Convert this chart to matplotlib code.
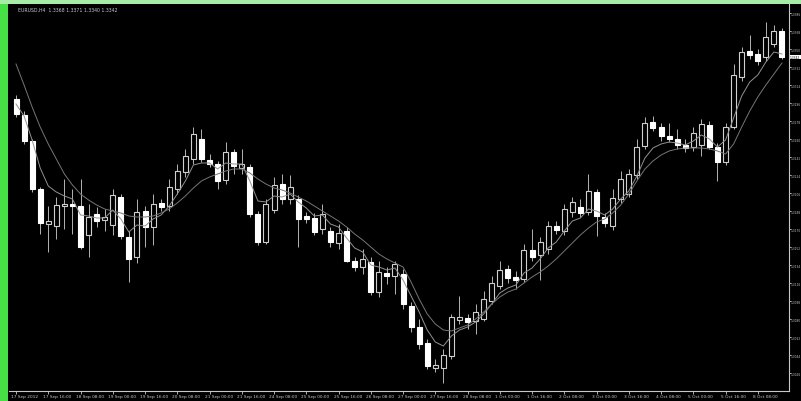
import matplotlib
matplotlib.use("Agg")
import matplotlib.pyplot as plt
from matplotlib.patches import Rectangle

SYMBOL = "EURUSD,H4"

# H4 bars (price = 1.xxxx)
opens = [1.3300, 1.3284, 1.3258, 1.3210, 1.3175, 1.3173, 1.3193, 1.3195, 1.3193, 1.3164,
         1.3185, 1.3179, 1.3174, 1.3202, 1.3162, 1.3142, 1.3188, 1.3172, 1.3196, 1.3193,
         1.3210, 1.3227, 1.3240, 1.3260, 1.3239, 1.3235, 1.3219, 1.3247, 1.3231, 1.3232,
         1.3185, 1.3157, 1.3189, 1.3215, 1.3200, 1.3200, 1.3183, 1.3181, 1.3170, 1.3168,
         1.3156, 1.3168, 1.3138, 1.3132, 1.3137, 1.3107, 1.3126, 1.3123, 1.3125, 1.3093,
         1.3072, 1.3056, 1.3031, 1.3031, 1.3043, 1.3079, 1.3081, 1.3078, 1.3080, 1.3098,
         1.3113, 1.3130, 1.3122, 1.3120, 1.3149, 1.3144, 1.3150, 1.3173, 1.3168, 1.3187,
         1.3192, 1.3187, 1.3207, 1.3182, 1.3173, 1.3200, 1.3205, 1.3224, 1.3253, 1.3277,
         1.3272, 1.3263, 1.3260, 1.3254, 1.3252, 1.3254, 1.3274, 1.3252, 1.3237, 1.3272,
         1.3322, 1.3348, 1.3345, 1.3342, 1.3355, 1.3368]
highs = [1.3304, 1.3288, 1.3260, 1.3212, 1.3193, 1.3202, 1.3220, 1.3210, 1.3220, 1.3195,
         1.3192, 1.3190, 1.3210, 1.3205, 1.3168, 1.3200, 1.3193, 1.3205, 1.3200, 1.3220,
         1.3235, 1.3250, 1.3272, 1.3270, 1.3245, 1.3238, 1.3257, 1.3250, 1.3250, 1.3235,
         1.3188, 1.3200, 1.3222, 1.3225, 1.3224, 1.3204, 1.3187, 1.3186, 1.3195, 1.3172,
         1.3175, 1.3172, 1.3142, 1.3150, 1.3142, 1.3138, 1.3132, 1.3138, 1.3130, 1.3097,
         1.3080, 1.3060, 1.3040, 1.3050, 1.3085, 1.3103, 1.3085, 1.3095, 1.3108, 1.3123,
         1.3138, 1.3134, 1.3128, 1.3155, 1.3170, 1.3162, 1.3178, 1.3178, 1.3195, 1.3202,
         1.3200, 1.3225, 1.3210, 1.3186, 1.3210, 1.3228, 1.3230, 1.3260, 1.3282, 1.3283,
         1.3276, 1.3276, 1.3270, 1.3260, 1.3272, 1.3280, 1.3278, 1.3256, 1.3276, 1.3335,
         1.3352, 1.3364, 1.3350, 1.3377, 1.3374, 1.3371]
lows = [1.3282, 1.3255, 1.3207, 1.3165, 1.3147, 1.3160, 1.3170, 1.3165, 1.3150, 1.3142,
        1.3172, 1.3168, 1.3164, 1.3160, 1.3117, 1.3136, 1.3152, 1.3154, 1.3188, 1.3188,
        1.3205, 1.3222, 1.3235, 1.3237, 1.3232, 1.3210, 1.3215, 1.3225, 1.3225, 1.3182,
        1.3154, 1.3155, 1.3186, 1.3195, 1.3195, 1.3152, 1.3176, 1.3164, 1.3165, 1.3152,
        1.3150, 1.3137, 1.3128, 1.3125, 1.3104, 1.3102, 1.3115, 1.3105, 1.3090, 1.3067,
        1.3050, 1.3030, 1.3027, 1.3016, 1.3040, 1.3075, 1.3070, 1.3065, 1.3078, 1.3095,
        1.3110, 1.3116, 1.3110, 1.3117, 1.3138, 1.3119, 1.3145, 1.3165, 1.3164, 1.3182,
        1.3182, 1.3184, 1.3163, 1.3172, 1.3169, 1.3196, 1.3202, 1.3220, 1.3250, 1.3268,
        1.3258, 1.3257, 1.3250, 1.3247, 1.3248, 1.3243, 1.3250, 1.3218, 1.3234, 1.3270,
        1.3318, 1.3340, 1.3334, 1.3338, 1.3352, 1.3340]
closes = [1.3285, 1.3258, 1.3210, 1.3176, 1.3178, 1.3194, 1.3195, 1.3193, 1.3152, 1.3182,
          1.3178, 1.3182, 1.3204, 1.3163, 1.3140, 1.3187, 1.3172, 1.3195, 1.3192, 1.3212,
          1.3228, 1.3243, 1.3265, 1.3240, 1.3235, 1.3218, 1.3247, 1.3233, 1.3235, 1.3185,
          1.3157, 1.3195, 1.3214, 1.3200, 1.3212, 1.3180, 1.3180, 1.3167, 1.3185, 1.3157,
          1.3166, 1.3138, 1.3132, 1.3140, 1.3107, 1.3127, 1.3123, 1.3135, 1.3095, 1.3072,
          1.3055, 1.3033, 1.3034, 1.3044, 1.3082, 1.3082, 1.3077, 1.3087, 1.3100, 1.3116,
          1.3129, 1.3121, 1.3119, 1.3149, 1.3142, 1.3157, 1.3173, 1.3169, 1.3190, 1.3197,
          1.3186, 1.3208, 1.3183, 1.3176, 1.3201, 1.3220, 1.3225, 1.3252, 1.3276, 1.3271,
          1.3263, 1.3260, 1.3254, 1.3251, 1.3266, 1.3275, 1.3252, 1.3237, 1.3272, 1.3324,
          1.3347, 1.3344, 1.3338, 1.3362, 1.3368, 1.3342]

# the two moving average lines
ma_fast = [1.3295, 1.3283, 1.3259, 1.3231, 1.3213, 1.3207, 1.3203, 1.3200, 1.3184, 1.3183,
           1.3181, 1.3181, 1.3189, 1.3180, 1.3167, 1.3174, 1.3173, 1.3180, 1.3184, 1.3193,
           1.3205, 1.3218, 1.3234, 1.3236, 1.3236, 1.3230, 1.3236, 1.3235, 1.3235, 1.3218,
           1.3198, 1.3197, 1.3203, 1.3202, 1.3205, 1.3197, 1.3191, 1.3183, 1.3184, 1.3175,
           1.3172, 1.3161, 1.3151, 1.3147, 1.3134, 1.3132, 1.3129, 1.3131, 1.3119, 1.3103,
           1.3087, 1.3069, 1.3057, 1.3053, 1.3063, 1.3069, 1.3072, 1.3077, 1.3085, 1.3095,
           1.3106, 1.3111, 1.3114, 1.3126, 1.3131, 1.3140, 1.3151, 1.3157, 1.3168, 1.3178,
           1.3181, 1.3190, 1.3188, 1.3184, 1.3190, 1.3200, 1.3208, 1.3223, 1.3241, 1.3251,
           1.3255, 1.3257, 1.3256, 1.3254, 1.3258, 1.3264, 1.3260, 1.3252, 1.3259, 1.3281,
           1.3303, 1.3317, 1.3324, 1.3337, 1.3347, 1.3345]
ma_slow = [1.3335, 1.3314, 1.3292, 1.3272, 1.3255, 1.3240, 1.3225, 1.3214, 1.3205, 1.3199,
           1.3194, 1.3190, 1.3188, 1.3186, 1.3183, 1.3182, 1.3182, 1.3183, 1.3186, 1.3190,
           1.3196, 1.3203, 1.3211, 1.3218, 1.3222, 1.3225, 1.3228, 1.3230, 1.3230, 1.3226,
           1.3220, 1.3215, 1.3211, 1.3209, 1.3206, 1.3202, 1.3198, 1.3193, 1.3188, 1.3183,
           1.3178, 1.3172, 1.3165, 1.3159, 1.3152, 1.3145, 1.3140, 1.3136, 1.3132, 1.3117,
           1.3100, 1.3085, 1.3075, 1.3069, 1.3068, 1.3071, 1.3074, 1.3080, 1.3087, 1.3095,
           1.3102, 1.3107, 1.3110, 1.3116, 1.3122, 1.3127, 1.3133, 1.3140, 1.3148, 1.3156,
           1.3164, 1.3171, 1.3177, 1.3180, 1.3186, 1.3194, 1.3205, 1.3218, 1.3230, 1.3238,
           1.3244, 1.3248, 1.3250, 1.3251, 1.3251, 1.3251, 1.3250, 1.3248, 1.3245, 1.3255,
           1.3272, 1.3288, 1.3302, 1.3314, 1.3325, 1.3336]

# time axis labels, one every 4 bars
date_labels = ["17 Sep 2012", "17 Sep 16:00", "18 Sep 08:00", "19 Sep 00:00",
               "19 Sep 16:00", "20 Sep 08:00", "21 Sep 00:00", "21 Sep 16:00",
               "24 Sep 08:00", "25 Sep 00:00", "25 Sep 16:00", "26 Sep 08:00",
               "27 Sep 00:00", "27 Sep 16:00", "28 Sep 08:00", "1 Oct 00:00",
               "1 Oct 16:00", "2 Oct 08:00", "3 Oct 00:00", "3 Oct 16:00",
               "4 Oct 08:00", "5 Oct 00:00", "5 Oct 16:00", "8 Oct 08:00"]
price_ticks = [1.3026, 1.3044, 1.3062, 1.3080, 1.3098, 1.3116, 1.3134,
               1.3152, 1.3170, 1.3188, 1.3206, 1.3224, 1.3242, 1.3260, 1.3278,
               1.3296, 1.3314, 1.3332, 1.3350, 1.3368, 1.3386]

W, H = 801, 402
GRID = "#c8c8c8"
NARROW = ["Liberation Sans Narrow", "DejaVu Sans"]


def main():
    fig = plt.figure(figsize=(W / 100, H / 100), dpi=100, facecolor="black")

    # green window frame on left and top
    fig.patches.append(Rectangle((0, 0), 8 / W, 1, transform=fig.transFigure,
                                 facecolor="#46e046", edgecolor="none", zorder=0))
    fig.patches.append(Rectangle((0, 1 - 5 / H), 1, 5 / H, transform=fig.transFigure,
                                 facecolor="#a6eca6", edgecolor="none", zorder=0))

    ax = fig.add_axes([9 / W, 10 / H, 780 / W, 387 / H], facecolor="black")

    n = len(closes)
    xs = list(range(n))
    step = 8.06  # pixels per bar
    ax.set_xlim(-7 / step, n - 1 + 7 / step)
    ax.set_ylim(1.3400 - 392 / 10000, 1.3400 - 5 / 10000)

    # wicks
    ax.vlines(xs, lows, highs, color="#b4b4b4", linewidth=0.7, zorder=2)

    # bodies: bear = solid white, bull = hollow
    for i in xs:
        o, c = opens[i], closes[i]
        bear = c < o
        ax.bar(i, abs(c - o), bottom=min(o, c), width=0.62,
               facecolor="white" if bear else "black",
               edgecolor="white" if bear else "#d0d0d0",
               linewidth=0.8, zorder=3)

    ax.plot(xs, ma_fast, color="#929292", linewidth=0.7, zorder=4)
    ax.plot(xs, ma_slow, color="#767676", linewidth=0.7, zorder=4)

    for side in ["left", "top"]:
        ax.spines[side].set_visible(False)
    for side in ["right", "bottom"]:
        ax.spines[side].set_color(GRID)
        ax.spines[side].set_linewidth(0.8)

    ax.yaxis.tick_right()
    ax.set_yticks(price_ticks)
    ax.set_yticklabels([f"{p:.4f}" for p in price_ticks], family=NARROW)
    ax.tick_params(axis="y", colors=GRID, labelsize=2.1, length=1.2, width=0.6, pad=0.3)

    ax.set_xticks(xs[::4])
    ax.set_xticklabels([])
    ax.tick_params(axis="x", colors=GRID, length=2, width=0.6)
    for k, lab in zip(xs[::4], date_labels):
        ax.text(k - 0.6, 1.3400 - 397 / 10000, lab, color=GRID, fontsize=3.1,
                ha="left", va="center", clip_on=False)

    # current price marker on the price scale
    last = closes[-1]
    ax.text(n - 1 + 7 / step + 0.12, last, f"{last:.4f}", color="black", fontsize=2.1,
            family=NARROW, ha="left", va="center", clip_on=False,
            bbox=dict(facecolor="white", edgecolor="none", pad=0.3))

    # chart header
    ax.text(0.3, 1.3400 - 10 / 10000,
            f"{SYMBOL}  {opens[-1]:.4f} {highs[-1]:.4f} {lows[-1]:.4f} {closes[-1]:.4f}",
            color=GRID, fontsize=3.3, ha="left", va="center")

    fig.savefig("out.png", dpi=100, facecolor="black")


if __name__ == "__main__":
    main()
